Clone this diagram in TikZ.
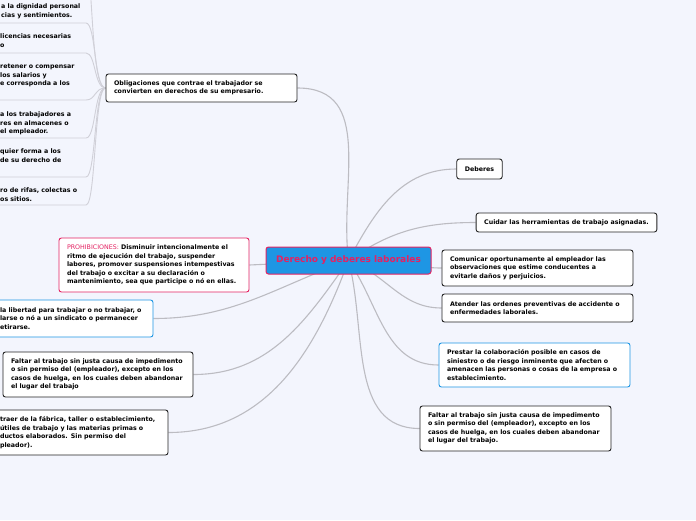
\documentclass[tikz,border=0pt]{standalone}
\usepackage{fontspec}
\setmainfont{DejaVu Sans}
\usetikzlibrary{backgrounds}
\definecolor{mmback}{RGB}{243,245,253}
\definecolor{mmline}{RGB}{188,188,194}
\definecolor{mmunder}{RGB}{208,208,216}
\definecolor{mmpink}{RGB}{228,34,98}
\definecolor{mmblue}{RGB}{30,150,228}
\definecolor{mmedge}{RGB}{35,35,35}

\begin{document}
\begin{tikzpicture}[x=1pt,y=-1pt,font=\bfseries\fontsize{6.3}{8.5}\selectfont,
    topic/.style={draw=mmedge,line width=0.9pt,rounded corners=2.5pt,fill=white,align=left,inner xsep=8pt,inner ysep=0pt},
    leaf/.style={anchor=north west,inner sep=0pt,align=left},
    link/.style={draw=mmline,line width=1.1pt},
    under/.style={draw=mmunder,line width=0.9pt}]
    \useasboundingbox (0,0) rectangle (696,520);
    % centre
    \node[topic,draw=mmpink,fill=mmblue,text=mmpink,line width=1pt,align=center,text width=149pt,minimum height=27pt,font=\bfseries\fontsize{9}{10}\selectfont] (root) at (348.5,260.5) {Derecho y deberes laborales};
    % left side
    \node[topic,text width=175pt,minimum height=28pt] (oblig) at (201.5,88) {Obligaciones que contrae el trabajador se\\convierten en derechos de su empresario.};
    \node[topic,draw=mmpink,text width=174pt,minimum height=54pt] (prohib) at (154,265) {{\mdseries\color{mmpink}PROHIBICIONES:} Disminuir intencionalmente el\\ritmo de ejecución del trabajo, suspender\\labores, promover suspensiones intempestivas\\del trabajo o excitar a su declaración o\\mantenimiento, sea que participe o nó en ellas.};
    \node[topic,draw=mmblue,text width=145pt,minimum height=37pt] (libertad) at (72.5,318.5) {la libertad para trabajar o no trabajar, o\\larse o nó a un sindicato o permanecer\\etirarse.};
    \node[topic,text width=174pt,minimum height=45pt] (faltarL) at (98,374.5) {Faltar al trabajo sin justa causa de impedimento\\o sin permiso del (empleador), excepto en los\\casos de huelga, en los cuales deben abandonar\\el lugar del trabajo};
    \node[topic,text width=160pt,minimum height=45pt] (traer) at (80,432.5) {traer de la fábrica, taller o establecimiento,\\útiles de trabajo y las materias primas o\\ductos elaborados. Sin permiso del\\pleador).};
    % underlined items on the far left
    \node[leaf] (dign) at (1,4) {a la dignidad personal\\cias y sentimientos.};
    \node[leaf] (licen) at (0,34) {licencias necesarias\\o};
    \node[leaf] (reten) at (0,64) {retener o compensar\\los salarios y\\e corresponda a los};
    \node[leaf] (obligar) at (0,112) {a los trabajadores a\\res en almacenes o\\el empleador.};
    \node[leaf] (limitar) at (0,149) {quier forma a los\\de su derecho de};
    \node[leaf] (rifas) at (0,188) {ro de rifas, colectas o\\os sitios.};
    \coordinate (dignU) at (86,23);
    \coordinate (licenU) at (86,53);
    \coordinate (retenU) at (86,100);
    \coordinate (obligarU) at (86,138);
    \coordinate (limitarU) at (86,177);
    \coordinate (rifasU) at (86,205);
    \coordinate (upper) at (90,-12);
    % right side
    \node[topic,minimum width=45pt,minimum height=20pt] (deberes) at (479.5,169) {Deberes};
    \node[topic,minimum width=179pt,minimum height=19pt] (cuidar) at (566.5,222.5) {Cuidar las herramientas de trabajo asignadas.};
    \node[topic,text width=175pt,minimum height=36pt] (comunicar) at (537.5,268) {Comunicar oportunamente al empleador las\\observaciones que estime conducentes a\\evitarle daños y perjuicios.};
    \node[topic,text width=175pt,minimum height=28pt] (atender) at (537.5,308) {Atender las ordenes preventivas de accidente o\\enfermedades laborales.};
    \node[topic,draw=mmblue,text width=175pt,minimum height=44pt] (prestar) at (534.5,365) {Prestar la colaboración posible en casos de\\siniestro o de riesgo inminente que afecten o\\amenacen las personas o cosas de la empresa o\\establecimiento.};
    \node[topic,text width=175pt,minimum height=45pt] (faltarR) at (515.5,428.5) {Faltar al trabajo sin justa causa de impedimento\\o sin permiso del (empleador), excepto en los\\casos de huelga, en los cuales deben abandonar\\el lugar del trabajo.};
    \begin{scope}[on background layer]
      \clip (0,0) rectangle (696,520);
      \fill[mmback] (0,0) rectangle (696,520);
      \draw[link] (root.center) to[out=97,in=0,looseness=1.1] (oblig.east);
      \draw[link] (root.center) -- (prohib.east);
      \draw[link] (root.center) to[out=200,in=0] (libertad.east);
      \draw[link] (root.center) to[out=235,in=0] (faltarL.east);
      \draw[link] (root.center) to[out=250,in=0] (traer.east);
      \draw[link] (root.center) to[out=62,in=180] (deberes.west);
      \draw[link] (root.center) to[out=35,in=180] (cuidar.west);
      \draw[link] (root.center) to[out=10,in=180] (comunicar.west);
      \draw[link] (root.center) to[out=-20,in=180] (atender.west);
      \draw[link] (root.center) to[out=-55,in=180] (prestar.west);
      \draw[link] (root.center) to[out=-75,in=180] (faltarR.west);
      \draw[under] (oblig.west) .. controls (94,88) and (93,20) .. (upper);
      \draw[under] (oblig.west) .. controls (94,88) and (96,23) .. (dignU) -- ++(-95,0);
      \draw[under] (oblig.west) .. controls (94,88) and (96,53) .. (licenU) -- ++(-95,0);
      \draw[under] (oblig.west) .. controls (94,88) and (96,100) .. (retenU) -- ++(-95,0);
      \draw[under] (oblig.west) .. controls (94,88) and (96,138) .. (obligarU) -- ++(-95,0);
      \draw[under] (oblig.west) .. controls (94,88) and (96,177) .. (limitarU) -- ++(-95,0);
      \draw[under] (oblig.west) .. controls (94,88) and (96,205) .. (rifasU) -- ++(-95,0);
    \end{scope}
\end{tikzpicture}
\end{document}
